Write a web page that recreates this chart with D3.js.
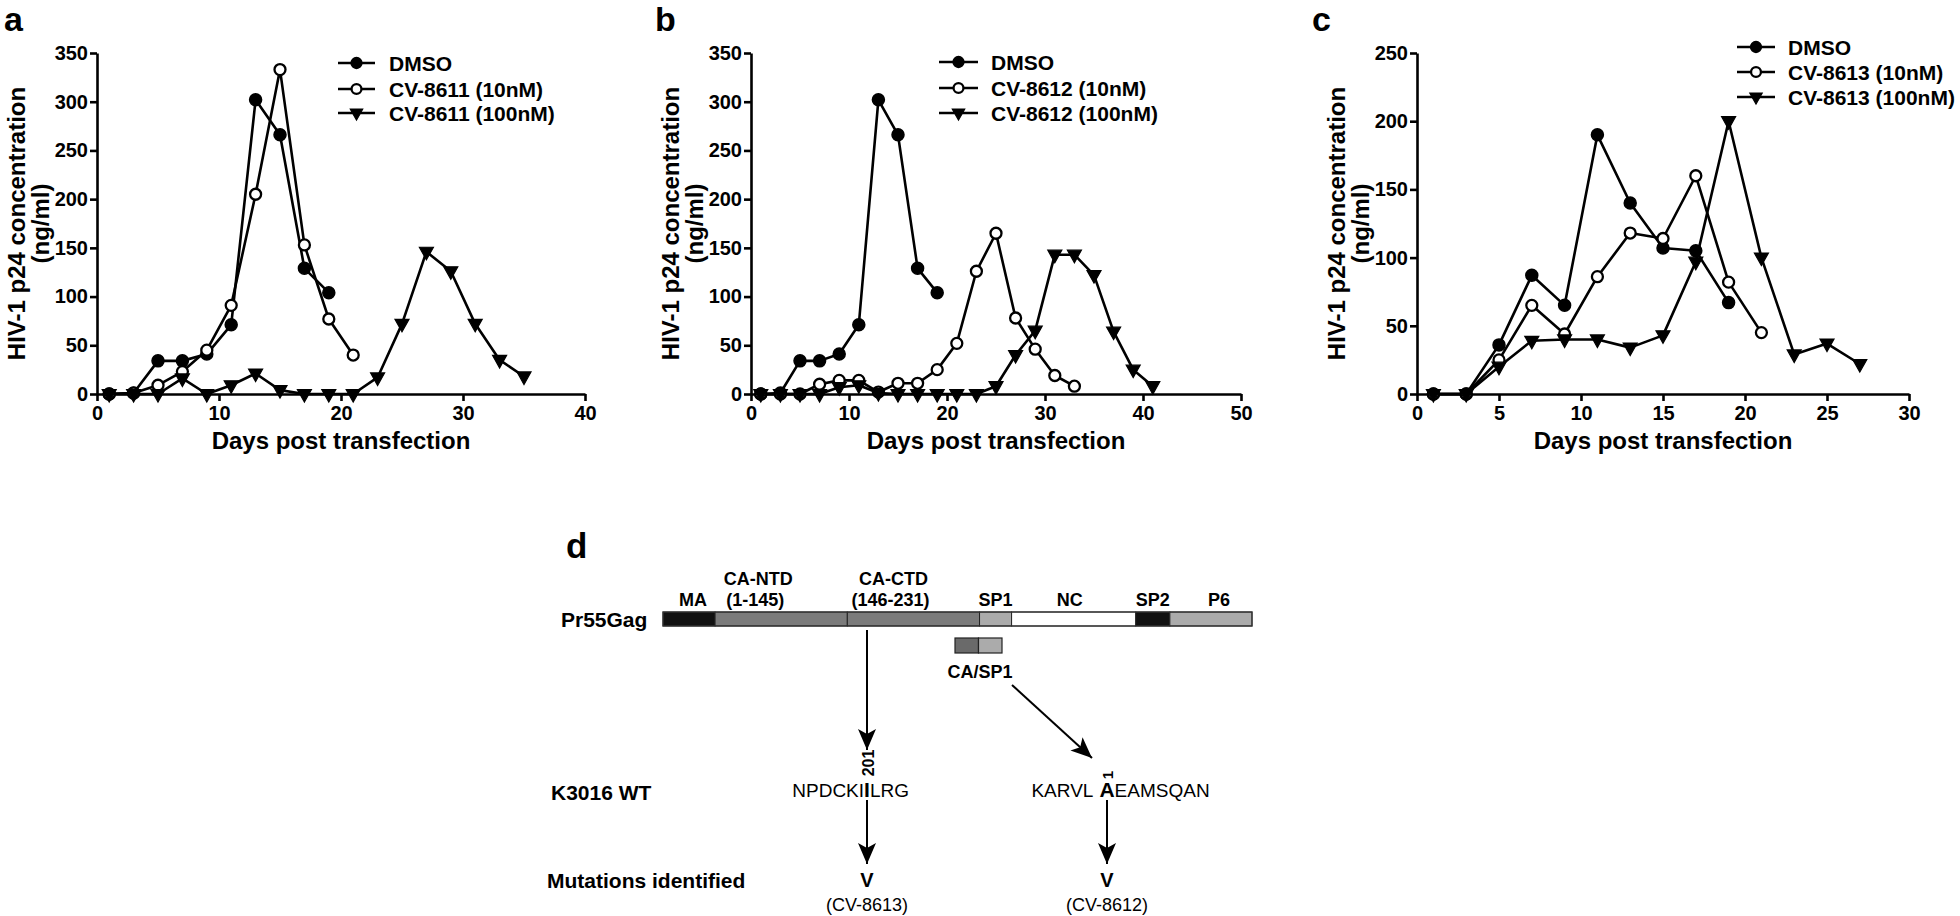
<!DOCTYPE html>
<html><head><meta charset="utf-8">
<script src="https://cdn.jsdelivr.net/npm/d3@7"></script>
<style>
body{margin:0;background:#fff;}
svg{display:block;font-family:"Liberation Sans",Arial,Helvetica,sans-serif;}
</style></head><body>
<svg id="fig" width="1960" height="916"></svg>
<script>
// ---------------- data ----------------
// shared DMSO control (panels a and b)
const dmsoDays   = [1,3,5,7,9,11,13,15,17,19];
const dmsoValues = [0,1,34,34,41,71,302,266,129,104];

// panel a
const cv8611LowDays    = [1,3,5,7,9,11,13,15,17,19,21];
const cv8611LowValues  = [0,1,9,23,45,91,205,333,153,77,40];
const cv8611HighDays   = [1,3,5,7,9,11,13,15,17,19,21,23,25,27,29,31,33,35];
const cv8611HighValues = [0,0,0,16,0,9,21,4,0,0,0,17,72,146,126,72,35,18];

// panel b
const cv8612LowDays    = [1,3,5,7,9,11,13,15,17,19,21,23,25,27,29,31,33];
const cv8612LowValues  = [0,0,0,10,14,14,2,11,11,25,52,126,165,78,46,19,8];
const cv8612HighDays   = [1,3,5,7,9,11,13,15,17,19,21,23,25,27,29,31,33,35,37,39,41];
const cv8612HighValues = [0,0,0,0,7,9,1,0,0,0,0,0,8,40,65,143,143,122,64,25,8];

// panel c
const cDmsoDays        = [1,3,5,7,9,11,13,15,17,19];
const cDmsoValues      = [0,0,36,87,65,190,140,107,105,67];
const cv8613LowDays    = [1,3,5,7,9,11,13,15,17,19,21];
const cv8613LowValues  = [0,0,25,65,44,86,118,114,160,82,45];
const cv8613HighDays   = [1,3,5,7,9,11,13,15,17,19,21,23,25,27];
const cv8613HighValues = [0,0,20,39,40,40,34,43,97,200,100,29,37,22];

const legendA = ["DMSO","CV-8611 (10nM)","CV-8611 (100nM)"];
const legendB = ["DMSO","CV-8612 (10nM)","CV-8612 (100nM)"];
const legendC = ["DMSO","CV-8613 (10nM)","CV-8613 (100nM)"];

const xTicksA = [0,10,20,30,40];
const xTicksB = [0,10,20,30,40,50];
const xTicksC = [0,5,10,15,20,25,30];
const yTicksAB = [0,50,100,150,200,250,300,350];
const yTicksC  = [0,50,100,150,200,250];

const xAxisTitle = "Days post transfection";
const yAxisTitle = ["HIV-1 p24 concentration","(ng/ml)"];

// panel d (schematic)
const gagSegments       = ["MA","CA-NTD","CA-CTD","SP1","NC","SP2","P6"];
const gagSubLabels      = ["","(1-145)","(146-231)","","","",""];
const gagSegmentLengths = [52,132,132,32,124,34,82]; // schematic units
const casp1Parts        = ["CA","SP1"];
const mutations = [
  {pos:"201", left:"NPDCKI", wt:"I", right:"LRG", mut:"V", compound:"(CV-8613)"},
  {pos:"1",   left:"KARVL",  wt:"A", right:"EAMSQAN", mut:"V", compound:"(CV-8612)"}
];

// ---------------- drawing ----------------
const svg = d3.select("#fig");
svg.append("rect").attr("width",1960).attr("height",916).attr("fill","#fff");

const defs = svg.append("defs");
defs.append("marker").attr("id","arr")
  .attr("viewBox","-22 -10 24 20").attr("refX",0).attr("refY",0)
  .attr("markerWidth",24).attr("markerHeight",20)
  .attr("markerUnits","userSpaceOnUse").attr("orient","auto")
  .append("path").attr("d","M0,0 L-21,-9 L-16,0 L-21,9 Z").attr("fill","#000");

function drawMarker(g, type, x, y, s=1){
  if(type==="filled"){
    g.append("circle").attr("cx",x).attr("cy",y).attr("r",6*s).attr("fill","#000").attr("stroke","#000").attr("stroke-width",1.5);
  } else if(type==="open"){
    g.append("circle").attr("cx",x).attr("cy",y).attr("r",5.5*s).attr("fill","#fff").attr("stroke","#000").attr("stroke-width",2.3);
  } else {
    g.append("path").attr("transform",`translate(${x},${y}) scale(${s})`)
      .attr("d","M-7,-4.5 L7,-4.5 L0,8 Z").attr("fill","#000").attr("stroke","#000").attr("stroke-width",1.2).attr("stroke-linejoin","miter");
  }
}

const panels = [
  {letter:"a", letterX:4, x0:97, x1:585, xMax:40, xTicks:xTicksA, yMax:350, yTicks:yTicksAB,
   series:[{d:dmsoDays,v:dmsoValues,m:"filled"},{d:cv8611LowDays,v:cv8611LowValues,m:"open"},{d:cv8611HighDays,v:cv8611HighValues,m:"tri"}],
   legend:legendA, lx0:338, lx1:375, ltx:389, ly:[63,89,113]},
  {letter:"b", letterX:655, x0:751, x1:1241, xMax:50, xTicks:xTicksB, yMax:350, yTicks:yTicksAB,
   series:[{d:dmsoDays,v:dmsoValues,m:"filled"},{d:cv8612LowDays,v:cv8612LowValues,m:"open"},{d:cv8612HighDays,v:cv8612HighValues,m:"tri"}],
   legend:legendB, lx0:939, lx1:978, ltx:991, ly:[62,88,113]},
  {letter:"c", letterX:1312, x0:1417, x1:1909, xMax:30, xTicks:xTicksC, yMax:250, yTicks:yTicksC,
   series:[{d:cDmsoDays,v:cDmsoValues,m:"filled"},{d:cv8613LowDays,v:cv8613LowValues,m:"open"},{d:cv8613HighDays,v:cv8613HighValues,m:"tri"}],
   legend:legendC, lx0:1737, lx1:1775, ltx:1788, ly:[47,72,97]}
];

const yBot = 394, yTop = 53;

panels.forEach(p=>{
  const g = svg.append("g");
  const x = d3.scaleLinear().domain([0,p.xMax]).range([p.x0,p.x1]);
  const y = d3.scaleLinear().domain([0,p.yMax]).range([yBot,yTop]);

  // panel letter
  g.append("text").attr("x",p.letterX).attr("y",31).attr("font-size",34).attr("font-weight","bold").text(p.letter);

  // axes
  const xa = g.append("g").attr("transform",`translate(0,${yBot})`)
    .call(d3.axisBottom(x).tickValues(p.xTicks).tickFormat(d3.format("d")).tickSize(7).tickSizeOuter(0).tickPadding(5));
  const ya = g.append("g").attr("transform",`translate(${p.x0},0)`)
    .call(d3.axisLeft(y).tickValues(p.yTicks).tickFormat(d3.format("d")).tickSize(7).tickSizeOuter(0).tickPadding(2));
  [xa,ya].forEach(a=>{
    a.select(".domain").attr("stroke","#000").attr("stroke-width",2.6);
    a.selectAll(".tick line").attr("stroke","#000").attr("stroke-width",2.6);
    a.selectAll(".tick text").attr("font-size",20).attr("font-weight","bold").attr("fill","#000")
      .attr("font-family",'"Liberation Sans",Arial,sans-serif');
  });

  // axis titles
  g.append("text").attr("x",(p.x0+p.x1)/2).attr("y",449).attr("text-anchor","middle")
    .attr("font-size",24).attr("font-weight","bold").text(xAxisTitle);
  const yt = g.append("text").attr("transform",`translate(${p.x0-72},${(yBot+yTop)/2}) rotate(-90)`)
    .attr("text-anchor","middle").attr("font-size",24).attr("font-weight","bold");
  yt.append("tspan").attr("x",0).attr("y",0).text(yAxisTitle[0]);
  yt.append("tspan").attr("x",0).attr("y",24).text(yAxisTitle[1]);

  // lines
  const line = d3.line().x(d=>x(d[0])).y(d=>y(d[1]));
  p.series.forEach(s=>{
    const pts = s.d.map((d,i)=>[d,s.v[i]]);
    g.append("path").attr("d",line(pts)).attr("fill","none").attr("stroke","#000").attr("stroke-width",2.6).attr("stroke-linejoin","round");
  });
  p.series.forEach(s=>{
    s.d.forEach((d,i)=>drawMarker(g,s.m,x(d),y(s.v[i])));
  });

  // legend
  p.legend.forEach((t,i)=>{
    const yy = p.ly[i];
    g.append("line").attr("x1",p.lx0).attr("x2",p.lx1).attr("y1",yy).attr("y2",yy).attr("stroke","#000").attr("stroke-width",2.6);
    drawMarker(g,p.series[i].m,(p.lx0+p.lx1)/2,yy,0.9);
    g.append("text").attr("x",p.ltx).attr("y",yy).attr("dy","0.36em").attr("font-size",21).attr("font-weight","bold").text(t);
  });
});

// ---------------- panel d ----------------
const gd = svg.append("g");
gd.append("text").attr("x",566).attr("y",558).attr("font-size",35).attr("font-weight","bold").text("d");

const cum = [0]; gagSegmentLengths.forEach((l,i)=>cum.push(cum[i]+l));
const gx = d3.scaleLinear().domain([0,cum[cum.length-1]]).range([663,1252]);
const segFill = ["#111","#7b7b7b","#7b7b7b","#ababab","#ffffff","#111","#ababab"];
const barY = 612, barH = 14;
gagSegments.forEach((s,i)=>{
  gd.append("rect").attr("x",gx(cum[i])).attr("y",barY).attr("width",gx(cum[i+1])-gx(cum[i])).attr("height",barH)
    .attr("fill",segFill[i]).attr("stroke","#222").attr("stroke-width",1);
});
gd.append("rect").attr("x",gx(0)).attr("y",barY).attr("width",gx(cum[cum.length-1])-gx(0)).attr("height",barH)
  .attr("fill","none").attr("stroke","#333").attr("stroke-width",1.2);
const labelShift = [4,-23,-20,0,-4,0,8];
gagSegments.forEach((s,i)=>{
  const cx = (gx(cum[i])+gx(cum[i+1]))/2 + labelShift[i];
  if(gagSubLabels[i]){
    gd.append("text").attr("x",cx).attr("y",585).attr("text-anchor","middle").attr("font-size",18).attr("font-weight","bold").text(s);
    gd.append("text").attr("x",cx-3).attr("y",606).attr("text-anchor","middle").attr("font-size",18).attr("font-weight","bold").text(gagSubLabels[i]);
  } else {
    gd.append("text").attr("x",cx).attr("y",606).attr("text-anchor","middle").attr("font-size",18).attr("font-weight","bold").text(s);
  }
});
gd.append("text").attr("x",561).attr("y",627).attr("font-size",21).attr("font-weight","bold").text("Pr55Gag");

// CA/SP1 box
const bx = d3.scaleLinear().domain([0,casp1Parts.length]).range([955,1002]);
const casFill = ["#6a6a6a","#ababab"];
casp1Parts.forEach((c,i)=>{
  gd.append("rect").attr("x",bx(i)).attr("y",638).attr("width",bx(i+1)-bx(i)).attr("height",15)
    .attr("fill",casFill[i]).attr("stroke","#222").attr("stroke-width",1.2);
});
gd.append("text").attr("x",980).attr("y",678).attr("text-anchor","middle").attr("font-size",18).attr("font-weight","bold").text(casp1Parts.join("/"));

gd.append("text").attr("x",551).attr("y",800).attr("font-size",21).attr("font-weight","bold").text("K3016 WT");
gd.append("text").attr("x",547).attr("y",888).attr("font-size",21).attr("font-weight","bold").text("Mutations identified");

function arrow(x1,y1,x2,y2){
  gd.append("line").attr("x1",x1).attr("y1",y1).attr("x2",x2).attr("y2",y2)
    .attr("stroke","#000").attr("stroke-width",2).attr("marker-end","url(#arr)");
}
const mutX = [867,1107];
arrow(mutX[0],630,mutX[0],750);
arrow(1012,685,1092,758);
mutations.forEach((m,i)=>{
  const cx = mutX[i];
  // position number (rotated)
  gd.append("text").attr("transform",`translate(${cx+ (i===0?7:6)},${i===0?763:775}) rotate(-90)`)
    .attr("text-anchor","middle").attr("font-size",i===0?16:15).attr("font-weight","bold").text(m.pos);
  // sequence
  const wt = gd.append("text").attr("x",cx).attr("y",797).attr("text-anchor","middle").attr("font-size",21).attr("font-weight","bold").text(m.wt);
  const w = wt.node().getComputedTextLength();
  gd.append("text").attr("x",cx-w/2-(i===0?0:6)).attr("y",797).attr("text-anchor","end").attr("font-size",19).text(m.left);
  gd.append("text").attr("x",cx+w/2).attr("y",797).attr("text-anchor","start").attr("font-size",19).text(m.right);
  arrow(cx,800,cx,864);
  gd.append("text").attr("x",cx).attr("y",887).attr("text-anchor","middle").attr("font-size",20).attr("font-weight","bold").text(m.mut);
  gd.append("text").attr("x",cx).attr("y",911).attr("text-anchor","middle").attr("font-size",18).text(m.compound);
});
</script>
</body></html>
